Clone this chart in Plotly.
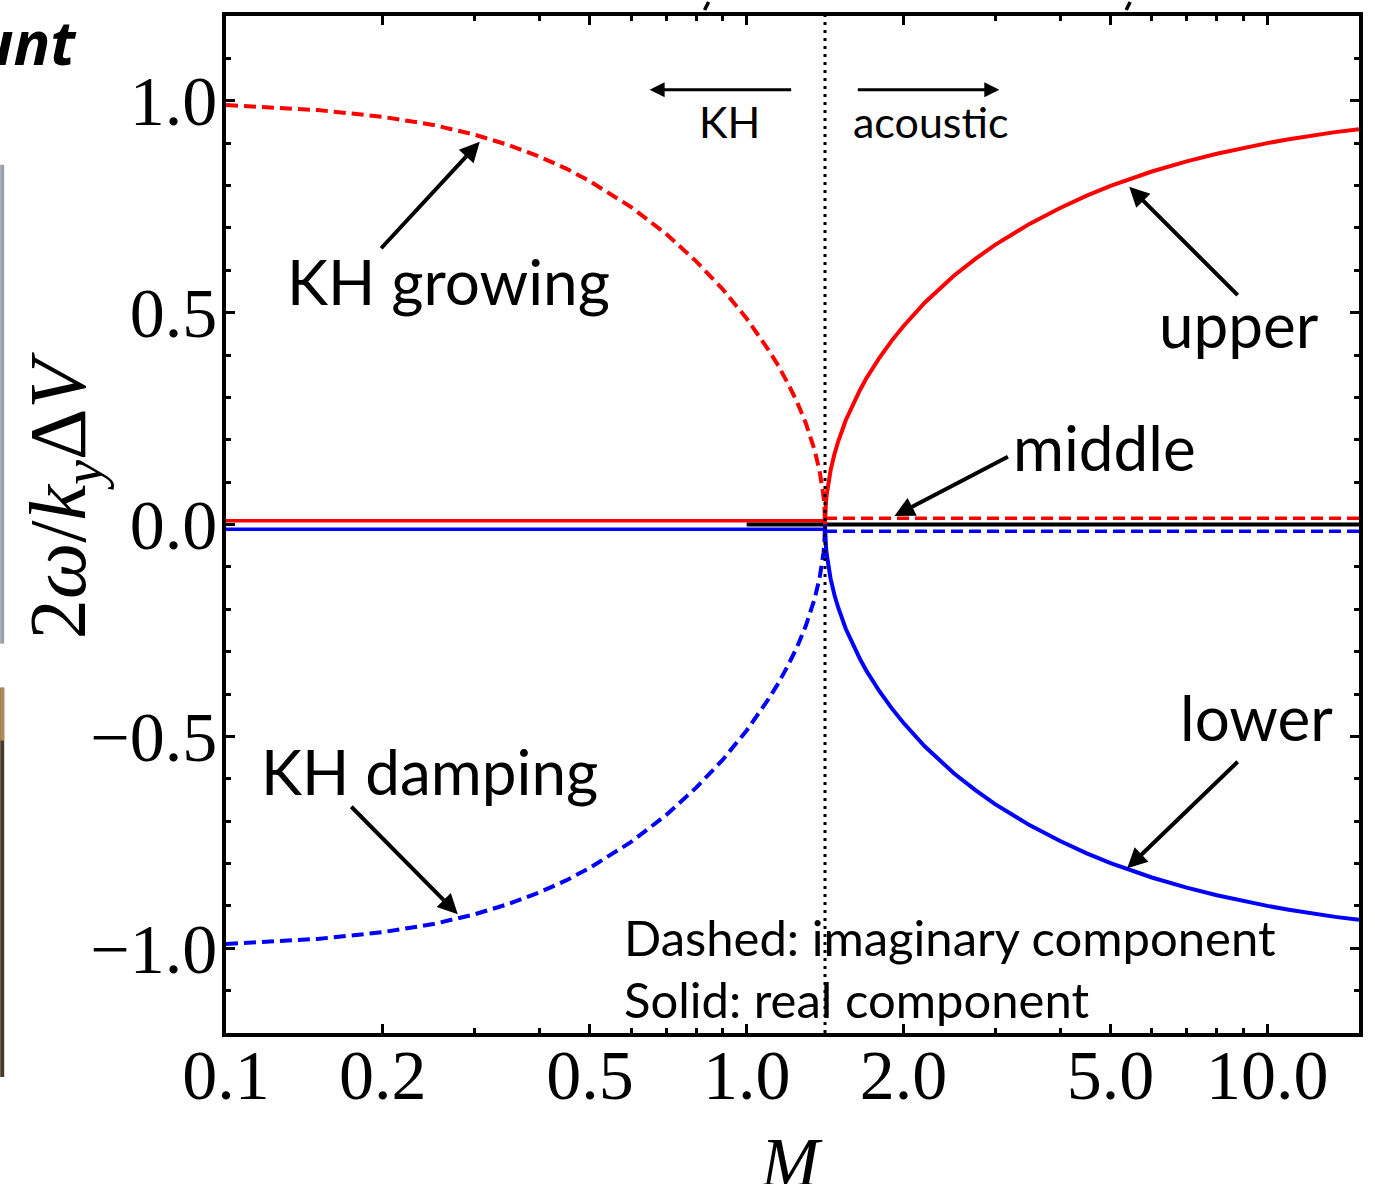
import math
import plotly.graph_objects as go

# ---------------- data ----------------
# KH branch (M below the critical Mach number): imaginary parts
M_kh = [0.1, 0.15, 0.2, 0.25, 0.3, 0.35, 0.4, 0.45, 0.5, 0.6, 0.7, 0.8, 0.9,
        1.0, 1.1, 1.15, 1.2, 1.25, 1.3, 1.32, 1.35, 1.38, 1.395, 1.4, 1.405,
        1.41, 1.413, 1.4135, 1.4142]
kh_growing = [0.990, 0.978, 0.962, 0.943, 0.920, 0.895, 0.868, 0.840, 0.810,
              0.749, 0.686, 0.621, 0.555, 0.486, 0.413, 0.375, 0.333, 0.289,
              0.238, 0.215, 0.176, 0.128, 0.096, 0.082, 0.066, 0.045, 0.024,
              0.018, 0.0]
kh_damping = [-0.990, -0.978, -0.962, -0.943, -0.920, -0.895, -0.868, -0.840,
              -0.810, -0.749, -0.686, -0.621, -0.555, -0.486, -0.413, -0.375,
              -0.333, -0.289, -0.238, -0.215, -0.176, -0.128, -0.096, -0.082,
              -0.066, -0.045, -0.024, -0.018, 0.0]

# acoustic branch (M above the critical Mach number): real parts
M_ac = [1.4142, 1.415, 1.417, 1.42, 1.425, 1.43, 1.44, 1.45, 1.475, 1.5,
        1.55, 1.6, 1.65, 1.7, 1.75, 1.8, 1.9, 2.0, 2.2, 2.5, 2.75, 3.0, 3.5,
        4.0, 4.5, 5.0, 6.0, 7.0, 8.0, 9.0, 10.0, 11.0, 12.0, 13.5, 15.0]
upper = [0.0, 0.019, 0.036, 0.052, 0.071, 0.086, 0.110, 0.129, 0.167, 0.197,
         0.246, 0.285, 0.317, 0.346, 0.371, 0.394, 0.434, 0.468, 0.524, 0.587,
         0.627, 0.660, 0.710, 0.747, 0.776, 0.799, 0.833, 0.857, 0.875, 0.889,
         0.900, 0.909, 0.917, 0.926, 0.933]
lower = [0.0, -0.019, -0.036, -0.052, -0.071, -0.086, -0.110, -0.129, -0.167,
         -0.197, -0.246, -0.285, -0.317, -0.346, -0.371, -0.394, -0.434,
         -0.468, -0.524, -0.587, -0.627, -0.660, -0.710, -0.747, -0.776,
         -0.799, -0.833, -0.857, -0.875, -0.889, -0.900, -0.909, -0.917,
         -0.926, -0.933]

# flat (zero) components, drawn slightly apart as in the picture
M_kh_ends = [0.1, 1.4142]
kh_growing_real = [0.009, 0.009]
kh_damping_real = [-0.011, -0.011]
M_ac_ends = [1.4142, 15.0]
upper_imag = [0.015, 0.015]
lower_imag = [-0.016, -0.016]
M_middle = [1.0, 15.0]
middle_real = [0.0, 0.0]

M_crit = 1.4142
y_span = [-1.2, 1.2]

x_tickvals = [0.1, 0.2, 0.5, 1, 2, 5, 10]
x_ticktext = ["0.1", "0.2", "0.5", "1.0", "2.0", "5.0", "10.0"]
x_minorvals = [0.3, 0.4, 0.6, 0.7, 0.8, 0.9, 3, 4, 6, 7, 8, 9]
y_tickvals = [-1.0, -0.5, 0.0, 0.5, 1.0]
y_ticktext = ["\u22121.0", "\u22120.5", "0.0", "0.5", "1.0"]

RED = "#ff0000"
BLUE = "#0000ff"
DASH = "12px,6px"

# ---------------- layout geometry ----------------
W, H = 1375, 1184
L, R, T, B = 226, 15, 14, 151
PW, PH = W - L - R, H - T - B
X_RANGE = [-1.0, math.log10(15.0)]
Y_RANGE = [-1.2, 1.2]


def paper(px, py):
    return (px - L) / PW, (T + PH - py) / PH


def data(px, py):
    lx = X_RANGE[0] + (px - L) / PW * (X_RANGE[1] - X_RANGE[0])
    yy = Y_RANGE[1] - (py - T) / PH * (Y_RANGE[1] - Y_RANGE[0])
    return lx, yy


fig = go.Figure()


def line(x, y, color, dash=None, width=4):
    fig.add_trace(go.Scatter(x=x, y=y, mode="lines", showlegend=False,
                             hoverinfo="skip",
                             line=dict(color=color, width=width,
                                       dash=dash if dash else "solid")))


line(M_kh_ends, kh_growing_real, RED, width=3.5)
line(M_kh_ends, kh_damping_real, BLUE, width=3.5)
line(M_middle, middle_real, "black")
line(M_ac_ends, upper_imag, RED, DASH, width=3.5)
line(M_ac_ends, lower_imag, BLUE, DASH, width=3.5)
line(M_kh, kh_growing, RED, DASH)
line(M_kh, kh_damping, BLUE, DASH)
line(M_ac, upper, RED)
line(M_ac, lower, BLUE)
line([M_crit, M_crit], y_span, "black", "3px,5px", width=3)

ann = []
LABEL_FONT = dict(family="Lato, 'Open Sans', sans-serif", color="black")


def text(px, py, s, size, xanchor="center"):
    x, y = paper(px, py)
    ann.append(dict(x=x, y=y, xref="paper", yref="paper", text=s,
                    showarrow=False, xanchor=xanchor, yanchor="middle",
                    font=dict(LABEL_FONT, size=size)))


def arrow(hx, hy, tx, ty, width=4, size=1.0, head=2):
    x, y = data(hx, hy)
    ann.append(dict(x=x, y=y, xref="x", yref="y", text="", showarrow=True,
                    ax=tx - hx, ay=ty - hy, axref="pixel", ayref="pixel",
                    arrowhead=head, arrowsize=size, arrowwidth=width,
                    arrowcolor="black", standoff=0, startstandoff=0))


text(449, 280, "KH growing", 62)
arrow(480, 140, 380, 248)
text(1240, 323, "upper", 62)
arrow(1130, 185, 1240, 295)
text(1105, 446, "middle", 62)
arrow(895, 515, 1010, 455)
text(1257, 716, "lower", 62)
arrow(1128, 868, 1240, 760)
text(430, 770, "KH damping", 62)
arrow(458, 914, 350, 805)

text(730, 120, "KH", 43)
arrow(650, 88, 793, 88, width=3, size=1.0)
text(932, 120, "acoustic", 43)
arrow(1000, 88, 857, 88, width=3, size=1.0)

text(622, 937, "Dashed: imaginary component", 49, xanchor="left")
text(622, 999, "Solid: real component", 49, xanchor="left")

# axis titles
x, y = paper(64, 494)
ann.append(dict(x=x, y=y, xref="paper", yref="paper", showarrow=False,
                text="2<i>\u03c9</i>/<i>k<sub>y</sub></i>\u0394<i>V</i>",
                textangle=-90, xanchor="center", yanchor="middle",
                font=dict(family="'Liberation Serif', serif", size=80,
                          color="black")))
x, y = paper(792, 1163)
ann.append(dict(x=x, y=y, xref="paper", yref="paper", showarrow=False,
                text="<i>M</i>", xanchor="center", yanchor="middle",
                font=dict(family="'Liberation Serif', serif", size=70,
                          color="black")))

# fragment of cropped slide text at the top-left
x, y = paper(79, 40)
ann.append(dict(x=x, y=y, xref="paper", yref="paper", showarrow=False,
                text="<b><i>ount</i></b>", xanchor="right", yanchor="middle",
                font=dict(family="'Open Sans', sans-serif", size=61,
                          color="black")))

shapes = []
# slivers of the neighbouring slide picture at the left edge
x0, y0 = paper(0, 643)
x1, y1 = paper(4, 163)
shapes.append(dict(type="rect", xref="paper", yref="paper", x0=x0, x1=x1,
                   y0=y0, y1=y1, line=dict(width=0), fillcolor="#9ca2ab"))
x0, y0 = paper(0, 1077)
x1, y1 = paper(4, 687)
shapes.append(dict(type="rect", xref="paper", yref="paper", x0=x0, x1=x1,
                   y0=y0, y1=y1, line=dict(width=0), fillcolor="#463a2b"))
x0, y0 = paper(0, 740)
x1, y1 = paper(4, 687)
shapes.append(dict(type="rect", xref="paper", yref="paper", x0=x0, x1=x1,
                   y0=y0, y1=y1, line=dict(width=0), fillcolor="#b08a55"))
# slivers of the cut-off title above the frame
for px in (707, 1129):
    xa, ya = paper(px + 2, 0)
    xb, yb = paper(px - 2, 8)
    shapes.append(dict(type="line", xref="paper", yref="paper", x0=xa,
                       y0=ya, x1=xb, y1=yb, line=dict(color="black",
                                                      width=3.5)))

TICK_FONT = dict(family="'Liberation Serif', 'Times New Roman', serif",
                 size=70, color="black")

fig.update_layout(
    width=W, height=H,
    margin=dict(l=L, r=R, t=T, b=B, pad=0),
    paper_bgcolor="white", plot_bgcolor="white",
    annotations=ann, shapes=shapes,
    xaxis=dict(type="log", range=X_RANGE, showgrid=False, zeroline=False,
               showline=True, linecolor="black", linewidth=3.5,
               mirror="allticks", ticks="inside", ticklen=9, tickwidth=3,
               tickcolor="black", tickmode="array", tickvals=x_tickvals,
               ticktext=x_ticktext, tickfont=TICK_FONT,
               ticklabelstandoff=-22,
               minor=dict(tickmode="array", tickvals=x_minorvals,
                          ticks="inside", ticklen=5, tickwidth=2.5,
                          tickcolor="black", showgrid=False)),
    yaxis=dict(range=Y_RANGE, showgrid=False, zeroline=False,
               showline=True, linecolor="black", linewidth=3.5,
               mirror="allticks", ticks="inside", ticklen=9, tickwidth=3,
               tickcolor="black", tickmode="array", tickvals=y_tickvals,
               ticktext=y_ticktext, tickfont=TICK_FONT,
               ticklabelstandoff=-9,
               minor=dict(dtick=0.1, tick0=0, ticks="inside", ticklen=5,
                          tickwidth=2.5, tickcolor="black", showgrid=False)),
)

fig.write_html("out.html")
